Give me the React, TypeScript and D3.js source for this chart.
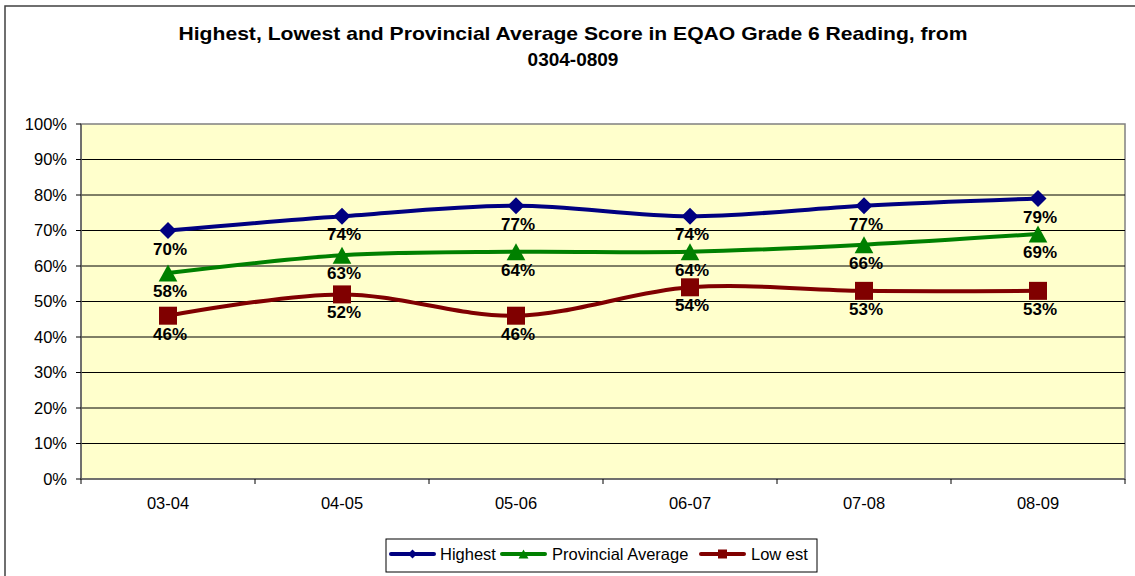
import * as d3 from 'd3';

// school years on the x axis
const years = ['03-04', '04-05', '05-06', '06-07', '07-08', '08-09'];

// percentage of students at or above the standard
const highest = [70, 74, 77, 74, 77, 79];
const provincialAverage = [58, 63, 64, 64, 66, 69];
const lowest = [46, 52, 46, 54, 53, 53];

const yTicks = [0, 10, 20, 30, 40, 50, 60, 70, 80, 90, 100];

const seriesList = [
  { name: 'Highest', values: highest, color: '#000080', marker: 'diamond' },
  { name: 'Provincial Average', values: provincialAverage, color: '#008000', marker: 'triangle' },
  { name: 'Lowest', values: lowest, color: '#800000', marker: 'square' },
];

const W = 1135;
const H = 576;
const plot = { left: 81, right: 1125, top: 124, bottom: 479 };
const FONT = 'Liberation Sans, Arial, sans-serif';

function markerPath(kind: string, s: number) {
  const h = s / 2;
  if (kind === 'diamond') return `M0,${-h}L${h},0L0,${h}L${-h},0Z`;
  if (kind === 'triangle') return `M0,${-h}L${h * 1.1},${h}L${-h * 1.1},${h}Z`;
  return `M${-h},${-h}H${h}V${h}H${-h}Z`;
}

export default function App() {
  const x = d3.scaleBand<string>().domain(years).range([plot.left, plot.right]);
  const y = d3.scaleLinear().domain([0, 100]).range([plot.bottom, plot.top]);
  const cx = (yr: string) => (x(yr) ?? 0) + x.bandwidth() / 2;

  const line = d3
    .line<number>()
    .x((_, i) => cx(years[i]))
    .y((v) => y(v))
    .curve(d3.curveCatmullRom.alpha(0));

  const boundaries = years.map((yr) => x(yr) ?? 0).concat([plot.right]);

  // legend layout
  const legendItems = [
    { lineX: 391, textX: 440 },
    { lineX: 502, textX: 552 },
    { lineX: 701, textX: 751 },
  ];

  return (
    <svg
      width={W}
      height={H}
      style={{ position: 'absolute', left: 0, top: 0, background: '#fff' }}
      fontFamily={FONT}
    >
      <rect x={5} y={6} width={W + 20} height={H + 20} fill="#fff" stroke="#404040" strokeWidth={1.5} />

      <text
        x={573}
        y={40}
        textAnchor="middle"
        fontSize={19}
        fontWeight="bold"
        fill="#000"
        textLength={789}
        lengthAdjust="spacingAndGlyphs"
      >
        Highest, Lowest and Provincial Average Score in EQAO Grade 6 Reading, from
      </text>
      <text x={573} y={66} textAnchor="middle" fontSize={19} fontWeight="bold" fill="#000">
        0304-0809
      </text>

      {/* plot area */}
      <rect
        x={plot.left}
        y={plot.top}
        width={plot.right - plot.left}
        height={plot.bottom - plot.top}
        fill="#FFFFCC"
        stroke="#808080"
        strokeWidth={1.5}
      />
      {yTicks.filter((t) => t > 0 && t < 100).map((t) => (
        <line key={t} x1={plot.left} x2={plot.right} y1={y(t)} y2={y(t)} stroke="#000" strokeWidth={1} />
      ))}

      {/* y axis */}
      <line x1={plot.left} x2={plot.left} y1={plot.top} y2={plot.bottom} stroke="#606060" strokeWidth={1.5} />
      {yTicks.map((t) => (
        <g key={t}>
          <line x1={plot.left - 5} x2={plot.left} y1={y(t)} y2={y(t)} stroke="#000" />
          <text x={67} y={y(t) + 5.5} textAnchor="end" fontSize={16.5} fill="#000">
            {t}%
          </text>
        </g>
      ))}

      {/* x axis */}
      <line x1={plot.left} x2={plot.right} y1={plot.bottom} y2={plot.bottom} stroke="#606060" strokeWidth={1.5} />
      {boundaries.map((b, i) => (
        <line key={i} x1={b} x2={b} y1={plot.bottom} y2={plot.bottom + 5} stroke="#000" />
      ))}
      {years.map((yr) => (
        <text key={yr} x={cx(yr)} y={509} textAnchor="middle" fontSize={16.5} fill="#000">
          {yr}
        </text>
      ))}

      {/* series */}
      {seriesList.map((s) => (
        <g key={s.name}>
          <path d={line(s.values) ?? ''} fill="none" stroke={s.color} strokeWidth={4} />
          {s.values.map((v, i) => (
            <path
              key={i}
              transform={`translate(${cx(years[i])},${y(v)})`}
              d={markerPath(s.marker, s.marker === 'square' ? 18 : 17)}
              fill={s.color}
            />
          ))}
        </g>
      ))}
      {seriesList.map((s) =>
        s.values.map((v, i) => (
          <text
            key={s.name + i}
            x={cx(years[i]) + 2}
            y={y(v) + 24}
            textAnchor="middle"
            fontSize={17}
            fontWeight="bold"
            fill="#000"
          >
            {v}%
          </text>
        ))
      )}

      {/* legend */}
      <rect x={386} y={539} width={431} height={33} fill="#fff" stroke="#000" strokeWidth={1} />
      {seriesList.map((s, i) => (
        <g key={s.name}>
          <line
            x1={legendItems[i].lineX}
            x2={legendItems[i].lineX + 43}
            y1={554}
            y2={554}
            stroke={s.color}
            strokeWidth={4}
            strokeLinecap="round"
          />
          <path
            transform={`translate(${legendItems[i].lineX + 21.5},554)`}
            d={markerPath(s.marker, 9)}
            fill={s.color}
          />
          <text x={legendItems[i].textX} y={560} fontSize={16.5} fill="#000">
            {s.name === 'Lowest' ? 'Low est' : s.name}
          </text>
        </g>
      ))}
    </svg>
  );
}
